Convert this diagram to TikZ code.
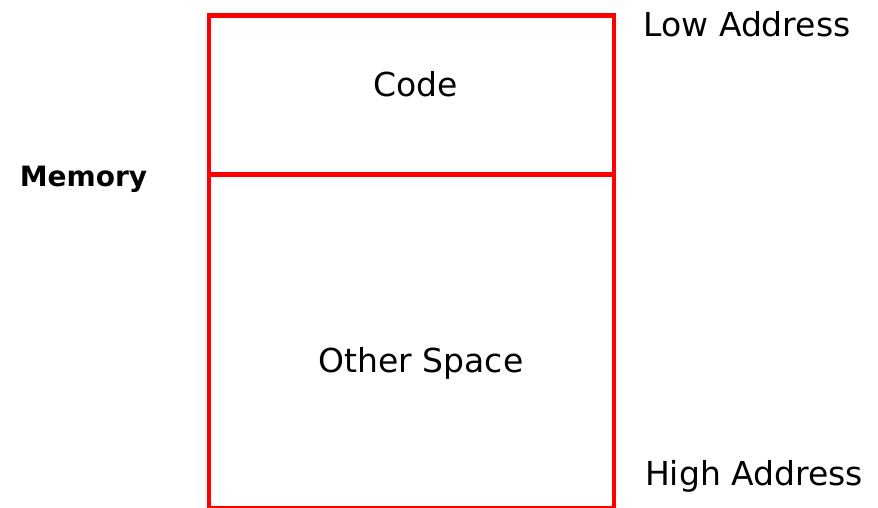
\documentclass[tikz,border=0pt]{standalone}
\usepackage{fontspec}
\setmainfont{DejaVu Sans}
\begin{document}
\begin{tikzpicture}[x=1pt, y=-1pt, line join=miter,
		memline/.style={draw=red, line width=4.5pt},
		lbl/.style={font=\fontsize{33}{39}\selectfont, anchor=base, inner sep=0pt},
		side/.style={font=\fontsize{28}{34}\selectfont\bfseries, anchor=base, inner sep=0pt}]
	\useasboundingbox (0,0) rectangle (878,508);
	\def\xl{209}\def\xr{614}\def\yt{15.5}\def\ym{174.5}\def\yb{508}
	\coordinate (tl) at (\xl,\yt); \coordinate (br) at (\xr,\yb);
	\coordinate (ml) at (\xl,\ym); \coordinate (mr) at (\xr,\ym);
	\draw[memline] (tl) rectangle (br);
	\draw[memline] (ml)--(mr);
	\node[lbl] (code) at (415.5,97) {Code};
	\node[lbl] (other) at (421,372) {Other Space};
	\node[lbl] (low) at (747,37) {Low Address};
	\node[lbl] (high) at (754,485) {High Address};
	\node[side] (memory) at (83.5,186) {Memory};
\end{tikzpicture}
\end{document}
